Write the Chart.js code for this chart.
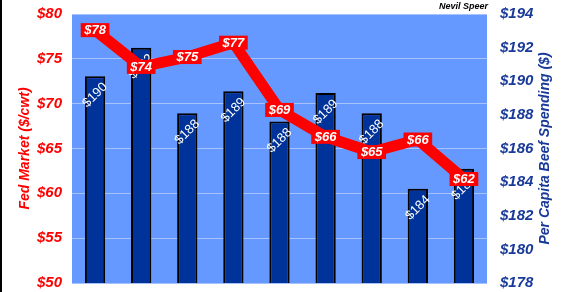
<!DOCTYPE html>
<html>
<head>
<meta charset="utf-8">
<script src="https://cdn.jsdelivr.net/npm/chart.js@4"></script>
<style>
  html, body { margin: 0; padding: 0; background: #fff; }
  #wrap { width: 565px; height: 292px; }
</style>
</head>
<body>
<div id="wrap"><canvas id="chart"></canvas></div>
<script>
// values
const categories = ['1', '2', '3', '4', '5', '6', '7', '8', '9'];
const fedPrice = [78.2, 74.1, 75.2, 76.8, 69.3, 66.3, 64.6, 66.0, 61.6];
const beefSpending = [190.3, 192.0, 188.1, 189.4, 187.6, 189.3, 188.1, 183.6, 184.8];
const leftTicks = [50, 55, 60, 65, 70, 75, 80];
const rightTicks = [178, 180, 182, 184, 186, 188, 190, 192, 194];

const RED = '#ff0000';
const BLUE_TEXT = '#1a3a99';
const font = (size, weight, style) => ({ family: 'Arial, "Liberation Sans"', size, weight, style });

// fixed axis widths, and no extra room for the end tick labels
const fixWidth = w => s => {
    s.width = w;
    s.paddingTop = 0;
    s.paddingBottom = 0;
};

// background, titles, note and data labels
const decorations = {
    id: 'decorations',
    beforeDraw(chart) {
        const { ctx, chartArea: a } = chart;
        ctx.save();
        ctx.fillStyle = '#6699ff';
        ctx.fillRect(a.left, a.top, a.right - a.left, a.bottom - a.top);
        ctx.fillStyle = '#000';
        ctx.fillRect(0, 0, 2, chart.height);
        ctx.restore();
    },
    afterDatasetDraw(chart, args) {
        if (args.meta.type !== 'bar') return;
        const ctx = chart.ctx;
        ctx.save();
        ctx.fillStyle = '#fff';
        ctx.font = '13px Arial, "Liberation Sans"';
        ctx.textAlign = 'center';
        ctx.textBaseline = 'middle';
        args.meta.data.forEach((bar, i) => {
            ctx.save();
            ctx.translate(bar.x, bar.y + 19);
            ctx.rotate(-Math.PI / 4);
            ctx.fillText('$' + Math.round(beefSpending[i]), 0, 0);
            ctx.restore();
        });
        ctx.restore();
    },
    afterDatasetsDraw(chart) {
        const { ctx, chartArea: a } = chart;
        const meta = chart.getDatasetMeta(0);
        ctx.save();
        ctx.font = 'italic bold 13px Arial, "Liberation Sans"';
        ctx.textAlign = 'center';
        ctx.textBaseline = 'middle';
        meta.data.forEach((pt, i) => {
            const txt = '$' + Math.round(fedPrice[i]);
            const w = ctx.measureText(txt).width + 7;
            ctx.fillStyle = RED;
            ctx.fillRect(pt.x - w / 2, pt.y - 7, w, 14);
            ctx.fillStyle = '#fff';
            ctx.fillText(txt, pt.x, pt.y + 0.5);
        });

        // axis titles
        ctx.font = 'italic bold 14px Arial, "Liberation Sans"';
        const midY = (a.top + a.bottom) / 2;
        ctx.save();
        ctx.translate(25, midY);
        ctx.rotate(-Math.PI / 2);
        ctx.fillStyle = RED;
        ctx.fillText('Fed Market ($/cwt)', 0, 0);
        ctx.restore();
        ctx.save();
        ctx.translate(545, midY);
        ctx.rotate(-Math.PI / 2);
        ctx.fillStyle = BLUE_TEXT;
        ctx.fillText('Per Capita Beef Spending ($)', 0, 0);
        ctx.restore();

        ctx.font = 'italic bold 9px Arial, "Liberation Sans"';
        ctx.fillStyle = '#000';
        ctx.textAlign = 'right';
        ctx.textBaseline = 'alphabetic';
        ctx.fillText('Nevil Speer', a.right + 1, 9);
        ctx.restore();
    }
};

new Chart(document.getElementById('chart'), {
    data: {
        labels: categories,
        datasets: [
            {
                type: 'line',
                label: 'Fed Market',
                data: fedPrice,
                yAxisID: 'y',
                borderColor: RED,
                borderWidth: 11,
                pointRadius: 0,
                tension: 0,
                order: 1
            },
            {
                type: 'bar',
                label: 'Per Capita Beef Spending',
                data: beefSpending,
                yAxisID: 'y1',
                backgroundColor: '#003399',
                borderColor: '#000',
                borderWidth: 2,
                categoryPercentage: 1,
                barPercentage: 0.44,
                order: 2
            }
        ]
    },
    options: {
        responsive: true,
        maintainAspectRatio: false,
        animation: false,
        devicePixelRatio: 1,
        layout: { autoPadding: false, padding: { left: 0, right: 0, top: 14, bottom: 9 } },
        plugins: { legend: { display: false }, tooltip: { enabled: false } },
        scales: {
            x: { display: false },
            y: {
                position: 'left',
                min: leftTicks[0],
                max: leftTicks[leftTicks.length - 1],
                afterBuildTicks: s => { s.ticks = leftTicks.map(v => ({ value: v })); },
                afterFit: fixWidth(72),
                border: { display: false },
                grid: { color: '#a8c2ff', lineWidth: 1, drawTicks: false },
                ticks: {
                    color: RED,
                    font: font(15, 'bold', 'italic'),
                    padding: 10,
                    callback: v => '$' + v
                }
            },
            y1: {
                position: 'right',
                min: rightTicks[0],
                max: rightTicks[rightTicks.length - 1],
                afterBuildTicks: s => { s.ticks = rightTicks.map(v => ({ value: v })); },
                afterFit: fixWidth(78),
                border: { display: false },
                grid: { display: false, drawTicks: false },
                ticks: {
                    color: BLUE_TEXT,
                    font: font(15, 'bold', 'italic'),
                    padding: 13,
                    callback: v => '$' + v
                }
            }
        }
    },
    plugins: [decorations]
});
</script>
</body>
</html>
